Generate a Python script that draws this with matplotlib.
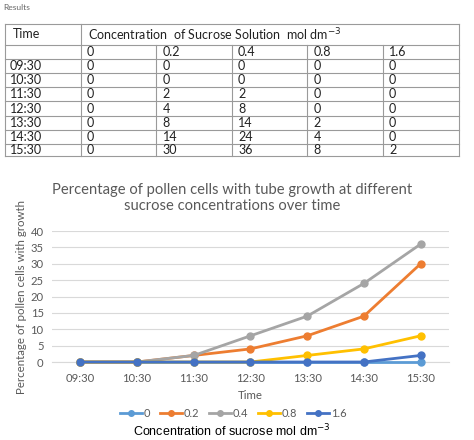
import matplotlib
matplotlib.use("Agg")
import matplotlib.pyplot as plt
from matplotlib.lines import Line2D

plt.rcParams['font.family'] = ['Lato', 'DejaVu Sans']

times = ["09:30", "10:30", "11:30", "12:30", "13:30", "14:30", "15:30"]
concentrations = ["0", "0.2", "0.4", "0.8", "1.6"]
s_0 = [0, 0, 0, 0, 0, 0, 0]
s_02 = [0, 0, 2, 4, 8, 14, 30]
s_04 = [0, 0, 2, 8, 14, 24, 36]
s_08 = [0, 0, 0, 0, 2, 4, 8]
s_16 = [0, 0, 0, 0, 0, 0, 2]
series = [s_0, s_02, s_04, s_08, s_16]
colors = ["#5B9BD5", "#ED7D31", "#A5A5A5", "#FFC000", "#4472C4"]
yticks = [0, 5, 10, 15, 20, 25, 30, 35, 40]

W, H = 474, 440
fig = plt.figure(figsize=(W / 100, H / 100), dpi=100)
fig.patch.set_facecolor("white")

# ---------- table (pixel-coordinate overlay) ----------
tx = fig.add_axes([0, 0, 1, 1])
tx.set_xlim(0, W)
tx.set_ylim(H, 0)
tx.axis("off")

def px(v):
    return v * 0.72

tx.text(3, 8, "Results", fontsize=px(8.5), color="#666666", va="center", ha="left")

left, right = 5, 459
col_x = [5, 81, 156.5, 232, 307.5, 383, 459]
row_y = [24, 45, 59, 73, 87, 101.5, 116, 130, 144, 156]
lc = "#9A9A9A"
lw = 0.8
for y in row_y:
    tx.plot([left, right], [y, y], color=lc, lw=lw)
tx.plot([left, left], [row_y[0], row_y[-1]], color=lc, lw=lw)
tx.plot([right, right], [row_y[0], row_y[-1]], color=lc, lw=lw)
tx.plot([col_x[1], col_x[1]], [row_y[0], row_y[-1]], color=lc, lw=lw)
for cx in col_x[2:-1]:
    tx.plot([cx, cx], [row_y[1], row_y[-1]], color=lc, lw=lw)

fs_t = px(12.5)
tc = "#222222"
tx.text(13, (row_y[0] + row_y[1]) / 2, "Time", fontsize=fs_t, va="center", ha="left", color=tc)
tx.text(88, (row_y[0] + row_y[1]) / 2, "Concentration  of Sucrose Solution  mol dm$^{-3}$",
        fontsize=fs_t, va="center", ha="left", color=tc)
for j, c in enumerate(concentrations):
    tx.text(col_x[j + 1] + 6, (row_y[1] + row_y[2]) / 2, c, fontsize=fs_t, va="center", ha="left", color=tc)
for i, t in enumerate(times):
    yc = (row_y[i + 2] + row_y[i + 3]) / 2
    tx.text(10, yc, t, fontsize=fs_t, va="center", ha="left", color=tc)
    for j, s in enumerate(series):
        tx.text(col_x[j + 1] + 6, yc, str(s[i]), fontsize=fs_t, va="center", ha="left", color=tc)

# ---------- chart ----------
ax_l, ax_r, ax_t, ax_b = 52, 449, 231, 362
ax = fig.add_axes([ax_l / W, (H - ax_b) / H, (ax_r - ax_l) / W, (ax_b - ax_t) / H])
xs = list(range(len(times)))
for s, c, lab in zip(series, colors, concentrations):
    ax.plot(xs, s, color=c, lw=2.0, marker="o", ms=5, label=lab, clip_on=False, zorder=3)
ax.set_xlim(-0.5, len(times) - 0.5)
ax.set_ylim(0, 40)
ax.set_yticks(yticks)
ax.set_xticks(xs)
ax.set_xticklabels(times)
ax.grid(axis="y", color="#D9D9D9", lw=0.8)
ax.set_axisbelow(True)
for sp in ["top", "right", "left"]:
    ax.spines[sp].set_visible(False)
ax.spines["bottom"].set_color("#D9D9D9")
ax.spines["bottom"].set_linewidth(0.8)
ax.tick_params(axis="both", length=0, labelsize=px(11.3), labelcolor="#595959", pad=6)
ax.tick_params(axis="x", pad=8)
ax.set_xlabel("Time", fontsize=px(11.5), color="#595959", labelpad=4)

fig.text(22 / W, 1 - 297 / H, "Percentage of pollen cells with growth", rotation=90,
         fontsize=px(11.5), color="#595959", ha="center", va="center")
fig.text(232 / W, 1 - 198 / H,
         "Percentage of pollen cells with tube growth at different\nsucrose concentrations over time",
         fontsize=px(14.8), color="#595959", ha="center", va="center", linespacing=1.2)

handles = [Line2D([0], [0], color=c, lw=2.0, marker="o", ms=4) for c in colors]
fig.legend(handles, concentrations, loc="center", bbox_to_anchor=(233 / W, 1 - 413 / H),
           ncol=5, frameon=False, fontsize=px(11), labelcolor="#595959",
           handlelength=2.0, handletextpad=0.15, columnspacing=0.9)

fig.text(232 / W, 1 - 431 / H, "Concentration of sucrose mol dm$^{-3}$",
         fontsize=px(12.5), color="black", ha="center", va="center", family="Liberation Sans")

fig.savefig("out.png", dpi=100)
